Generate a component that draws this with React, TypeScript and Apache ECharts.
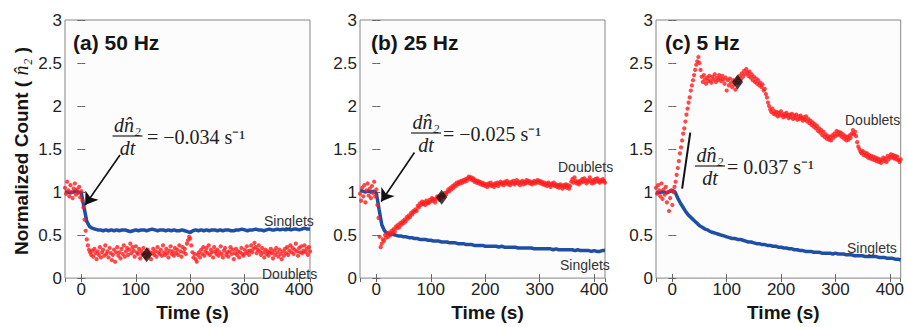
import React, { useEffect, useRef } from "react";
import * as echarts from "echarts";

const X_MIN = -30;
const X_MAX = 420;
const Y_MIN = 0;
const Y_MAX = 3;
const Y_STEP = 0.5;
const RED_START = -30;
const RED_STEP = 2;
const BLUE_START = -30;
const BLUE_STEP = 5;

const titles = ["(a) 50 Hz", "(b) 25 Hz", "(c) 5 Hz"];
const slopeTexts = ["= \u22120.034 s\u207B\u00B9", "= \u22120.025 s\u207B\u00B9", "= 0.037 s\u207B\u00B9"];
const diamondPts = [[120, 0.27], [120, 0.94], [120, 2.28]];
const arrowLines = [
  [[71, 1.43], [7, 0.85]],
  [[70, 1.46], [9, 0.89]],
  [[33, 1.69], [18, 1.04]],
];
const arrowHeads = [true, true, false];

// Doublets, sampled every 2 s from -30 s
const redA = [
  1.05, 0.98, 1.12, 1.02, 0.95, 1.08, 1.0, 0.93, 1.04, 1.1,
  0.97, 1.03, 0.99, 1.06, 0.94, 1.01, 0.9, 0.82, 0.68, 0.55,
  0.45, 0.38, 0.33, 0.3, 0.27, 0.32, 0.25, 0.34, 0.29, 0.22,
  0.31, 0.27, 0.36, 0.24, 0.3, 0.33, 0.26, 0.38, 0.28, 0.31,
  0.24, 0.35, 0.29, 0.21, 0.27, 0.33, 0.19, 0.3, 0.36, 0.26,
  0.3, 0.23, 0.34, 0.28, 0.38, 0.25, 0.31, 0.35, 0.27, 0.33,
  0.4, 0.29, 0.36, 0.32, 0.25, 0.37, 0.3, 0.28, 0.34, 0.23,
  0.31, 0.27, 0.35, 0.29, 0.24, 0.28, 0.33, 0.26, 0.3, 0.22,
  0.29, 0.34, 0.27, 0.31, 0.25, 0.36, 0.3, 0.28, 0.33, 0.26,
  0.38, 0.3, 0.27, 0.34, 0.29, 0.24, 0.32, 0.37, 0.28, 0.31,
  0.26, 0.35, 0.29, 0.33, 0.27, 0.38, 0.31, 0.25, 0.36, 0.3,
  0.34, 0.28, 0.4, 0.44, 0.48, 0.46, 0.38, 0.3, 0.24, 0.28,
  0.22, 0.19, 0.27, 0.3, 0.24, 0.33, 0.28, 0.36, 0.26, 0.31,
  0.35, 0.29, 0.38, 0.27, 0.33, 0.3, 0.24, 0.36, 0.31, 0.28,
  0.33, 0.26, 0.3, 0.37, 0.28, 0.24, 0.32, 0.35, 0.27, 0.3,
  0.25, 0.31, 0.36, 0.28, 0.33, 0.22, 0.29, 0.34, 0.27, 0.31,
  0.24, 0.3, 0.35, 0.28, 0.26, 0.33, 0.29, 0.37, 0.31, 0.27,
  0.32, 0.38, 0.3, 0.34, 0.41, 0.36, 0.29, 0.33, 0.38, 0.31,
  0.27, 0.35, 0.3, 0.24, 0.33, 0.28, 0.31, 0.26, 0.3, 0.34,
  0.29, 0.23, 0.32, 0.27, 0.35, 0.3, 0.25, 0.33, 0.28, 0.22,
  0.31, 0.26, 0.34, 0.29, 0.36, 0.27, 0.32, 0.38, 0.3, 0.35,
  0.28, 0.33, 0.4, 0.31, 0.26, 0.35, 0.3, 0.37, 0.29, 0.32,
  0.38, 0.3, 0.34, 0.27, 0.36, 0.31,
];
const redB = [
  0.98, 0.9, 1.05, 0.95, 1.08, 0.88, 1.02, 1.1, 0.96, 1.04,
  0.93, 1.07, 0.99, 1.12, 0.95, 1.03, 0.85, 0.7, 0.48, 0.36,
  0.4, 0.45, 0.43, 0.5, 0.47, 0.52, 0.48, 0.53, 0.5, 0.55,
  0.52, 0.57, 0.54, 0.6, 0.58, 0.62, 0.59, 0.64, 0.62, 0.66,
  0.64, 0.68, 0.66, 0.71, 0.69, 0.73, 0.71, 0.76, 0.74, 0.78,
  0.77, 0.8, 0.78, 0.84, 0.82, 0.87, 0.85, 0.89, 0.86, 0.88,
  0.85, 0.9, 0.88, 0.87, 0.91, 0.89, 0.93, 0.9, 0.92, 0.88,
  0.92, 0.95, 0.93, 0.91, 0.96, 0.94, 0.97, 0.95, 0.99, 0.97,
  1.0, 1.03, 1.01, 1.05, 1.03, 1.07, 1.05, 1.09, 1.07, 1.11,
  1.09, 1.12, 1.1, 1.13, 1.11, 1.14, 1.12, 1.15, 1.13, 1.16,
  1.18, 1.15, 1.17, 1.14, 1.16, 1.12, 1.14, 1.11, 1.13, 1.1,
  1.12, 1.09, 1.11, 1.08, 1.1, 1.07, 1.09, 1.06, 1.1, 1.08,
  1.11, 1.07, 1.09, 1.06, 1.1, 1.08, 1.11, 1.07, 1.1, 1.12,
  1.09, 1.11, 1.08, 1.12, 1.1, 1.13, 1.09, 1.11, 1.08, 1.12,
  1.1, 1.13, 1.09, 1.11, 1.14, 1.1, 1.12, 1.08, 1.11, 1.13,
  1.09, 1.12, 1.1, 1.14, 1.11, 1.13, 1.1, 1.12, 1.09, 1.11,
  1.13, 1.1, 1.12, 1.14, 1.11, 1.13, 1.1, 1.12, 1.09, 1.11,
  1.08, 1.1, 1.07, 1.11, 1.09, 1.06, 1.1, 1.08, 1.11, 1.07,
  1.09, 1.06, 1.08, 1.05, 1.09, 1.07, 1.04, 1.08, 1.06, 1.09,
  1.05, 1.08, 1.04, 1.07, 1.12, 1.15, 1.11, 1.17, 1.13, 1.1,
  1.12, 1.09, 1.13, 1.11, 1.15, 1.12, 1.16, 1.13, 1.1, 1.14,
  1.12, 1.17, 1.13, 1.1, 1.14, 1.11, 1.15, 1.12, 1.16, 1.13,
  1.11, 1.14, 1.12, 1.15, 1.13, 1.11,
];
const redC = [
  1.05, 0.98, 1.08, 1.02, 0.95, 1.1, 0.92, 1.03, 0.97, 1.06,
  0.88, 1.0, 0.78, 0.93, 1.02, 0.85, 1.0, 1.06, 1.12, 1.2,
  1.28, 1.36, 1.45, 1.52, 1.6, 1.68, 1.74, 1.82, 1.9, 1.97,
  2.04, 2.1, 2.18, 2.24, 2.3, 2.36, 2.42, 2.48, 2.52, 2.57,
  2.5, 2.42, 2.34, 2.28, 2.36, 2.31, 2.26, 2.33, 2.29, 2.35,
  2.3, 2.27, 2.34, 2.31, 2.37, 2.28, 2.33, 2.3, 2.36, 2.32,
  2.29, 2.35, 2.31, 2.26, 2.33, 2.18, 2.3, 2.24, 2.32, 2.27,
  2.22, 2.3, 2.25, 2.19, 2.28, 2.32, 2.27, 2.35, 2.31, 2.38,
  2.34, 2.41, 2.37, 2.43, 2.39, 2.35, 2.4, 2.33, 2.37, 2.3,
  2.34, 2.28, 2.32, 2.26, 2.3, 2.24, 2.27, 2.22, 2.25, 2.18,
  2.2, 2.14, 2.1, 2.04, 2.0, 1.96, 1.93, 1.97, 1.91, 1.94,
  1.9, 1.93, 1.88, 1.92, 1.89, 1.94, 1.9, 1.87, 1.91, 1.88,
  1.92, 1.89, 1.86, 1.9, 1.87, 1.91, 1.85, 1.89, 1.86, 1.9,
  1.84, 1.88, 1.85, 1.89, 1.86, 1.83, 1.87, 1.84, 1.88, 1.82,
  1.85, 1.8, 1.83, 1.78, 1.81, 1.76, 1.79, 1.74, 1.77, 1.71,
  1.74, 1.69, 1.72, 1.66, 1.7, 1.64, 1.67, 1.62, 1.65, 1.61,
  1.64, 1.6, 1.66, 1.63, 1.68, 1.65, 1.71, 1.67, 1.7, 1.66,
  1.69, 1.64, 1.67, 1.62, 1.65, 1.6, 1.64, 1.61, 1.66, 1.63,
  1.68, 1.72, 1.67, 1.7, 1.65, 1.58, 1.53, 1.5, 1.47, 1.45,
  1.48, 1.43, 1.46, 1.42, 1.45, 1.4, 1.43, 1.39, 1.42, 1.38,
  1.41, 1.37, 1.4, 1.36, 1.39, 1.35, 1.38, 1.34, 1.37, 1.4,
  1.36, 1.39, 1.35, 1.42, 1.38, 1.41, 1.44, 1.4, 1.43, 1.39,
  1.42, 1.38, 1.41, 1.37, 1.35, 1.38,
];

// Singlets, sampled every 5 s from -30 s
const blueA = [
  1.0, 1.0, 0.99, 1.0, 1.01, 1.0, 0.99, 0.82, 0.66, 0.6,
  0.58, 0.57, 0.56, 0.56, 0.55, 0.56, 0.55, 0.56, 0.55, 0.56,
  0.55, 0.56, 0.56, 0.55, 0.54, 0.55, 0.56, 0.55, 0.56, 0.56,
  0.55, 0.56, 0.57, 0.56, 0.55, 0.56, 0.56, 0.55, 0.56, 0.55,
  0.56, 0.55, 0.55, 0.56, 0.55, 0.54, 0.53, 0.55, 0.56, 0.55,
  0.56, 0.55, 0.56, 0.55, 0.56, 0.56, 0.55, 0.56, 0.55, 0.56,
  0.56, 0.55, 0.55, 0.56, 0.56, 0.57, 0.56, 0.55, 0.56, 0.56,
  0.57, 0.56, 0.56, 0.55, 0.56, 0.57, 0.56, 0.56, 0.57, 0.56,
  0.57, 0.56, 0.57, 0.56, 0.57, 0.57, 0.56, 0.57, 0.58, 0.57,
  0.57,
];
const blueB = [
  1.02, 1.01, 1.0, 1.01, 1.0, 1.01, 0.99, 0.8, 0.62, 0.55,
  0.52, 0.51, 0.51, 0.5, 0.49, 0.49, 0.48, 0.48, 0.47, 0.47,
  0.46, 0.46, 0.45, 0.45, 0.45, 0.44, 0.44, 0.43, 0.43, 0.43,
  0.42, 0.42, 0.42, 0.41, 0.41, 0.41, 0.4, 0.4, 0.4, 0.39,
  0.39, 0.39, 0.38, 0.38, 0.38, 0.38, 0.37, 0.37, 0.37, 0.37,
  0.37, 0.36, 0.37, 0.36, 0.36, 0.36, 0.36, 0.36, 0.35, 0.35,
  0.35, 0.35, 0.35, 0.35, 0.34, 0.34, 0.34, 0.34, 0.34, 0.34,
  0.34, 0.33, 0.34, 0.33, 0.33, 0.33, 0.33, 0.33, 0.33, 0.32,
  0.33, 0.32, 0.32, 0.32, 0.32, 0.31, 0.32, 0.31, 0.31, 0.32,
  0.32,
];
const blueC = [
  1.0, 0.99, 1.0, 1.0, 0.99, 1.01, 1.02, 1.0, 0.93, 0.87,
  0.82, 0.77, 0.73, 0.7, 0.67, 0.64, 0.61, 0.59, 0.57, 0.56,
  0.54, 0.53, 0.52, 0.51, 0.5, 0.49, 0.48, 0.47, 0.46, 0.46,
  0.45, 0.45, 0.44, 0.43, 0.42, 0.42, 0.41, 0.4, 0.4, 0.39,
  0.39, 0.38, 0.38, 0.37, 0.37, 0.36, 0.36, 0.35, 0.35, 0.34,
  0.34, 0.33, 0.33, 0.32, 0.32, 0.31, 0.31, 0.31, 0.3, 0.3,
  0.3, 0.29, 0.29, 0.29, 0.29, 0.28, 0.29, 0.28, 0.28, 0.28,
  0.27, 0.27, 0.27, 0.26, 0.26, 0.26, 0.26, 0.25, 0.25, 0.25,
  0.25, 0.25, 0.24, 0.24, 0.24, 0.23, 0.23, 0.23, 0.22, 0.22,
  0.21,
];

const doublets = [redA, redB, redC];
const singlets = [blueA, blueB, blueC];

// layout (pixels)
const GRID_LEFT = [65, 360, 656];
const GRID_WIDTH = [245, 245, 246];
const GRID_TOP = 20;
const GRID_HEIGHT = 263;
const TITLE_X = [73, 371, 665];
const FRAC = [
  { cx: 127.5, bar: 136, eqX: 147 },
  { cx: 426, bar: 133, eqX: 443 },
  { cx: 710, bar: 166, eqX: 727 },
];
const SERIES_LABELS = [
  [{ t: "Singlets", x: 264, y: 221 }, { t: "Doublets", x: 262, y: 274 }],
  [{ t: "Doublets", x: 558, y: 167 }, { t: "Singlets", x: 560, y: 265 }],
  [{ t: "Doublets", x: 845, y: 120 }, { t: "Singlets", x: 847, y: 248 }],
];

const SANS = "'Liberation Sans', Arial, Helvetica, sans-serif";
const SERIF = "'Liberation Serif', 'Times New Roman', serif";
const RED = "#ff1a1a";
const BLUE = "#1f4fa5";
const FRAME = "#858585";

function xLabel(v: number) {
  return v % 100 === 0 ? String(v) : "";
}

export default function App() {
  const ref = useRef<HTMLDivElement>(null);
  useEffect(() => {
    document.body.style.margin = "0";
    if (!ref.current) return;
    const chart = echarts.init(ref.current, undefined, { renderer: "svg" });

    const grid: any[] = [];
    const xAxis: any[] = [];
    const yAxis: any[] = [];
    const series: any[] = [];
    const graphic: any[] = [];

    for (let i = 0; i < 3; i++) {
      grid.push({
        left: GRID_LEFT[i],
        top: GRID_TOP,
        width: GRID_WIDTH[i],
        height: GRID_HEIGHT,
        show: true,
        backgroundColor: "#fcfcfc",
        borderColor: FRAME,
        borderWidth: 1,
      });
      const tick = { show: true, inside: true, length: 4, lineStyle: { color: "#666", width: 1 } };
      xAxis.push({
        type: "value",
        gridIndex: i,
        min: X_MIN,
        max: X_MAX,
        splitNumber: 5,
        position: "bottom",
        axisLine: { show: false },
        axisTick: tick,
        splitLine: { show: false },
        axisLabel: {
          formatter: xLabel,
          showMinLabel: false,
          showMaxLabel: false,
          fontSize: 17,
          color: "#222",
          fontFamily: SANS,
          margin: 3,
        },
        name: "Time (s)",
        nameLocation: "middle",
        nameGap: 23,
        nameTextStyle: {
          fontSize: 19,
          fontWeight: "bold",
          color: "#151515",
          fontFamily: SANS,
          padding: [0, 0, 0, 10],
        },
      });
      xAxis.push({
        type: "value",
        gridIndex: i,
        min: X_MIN,
        max: X_MAX,
        splitNumber: 5,
        position: "top",
        axisLine: { show: false },
        axisTick: tick,
        splitLine: { show: false },
        axisLabel: { show: false },
      });
      yAxis.push({
        type: "value",
        gridIndex: i,
        min: Y_MIN,
        max: Y_MAX,
        interval: Y_STEP,
        position: "left",
        axisLine: { show: false },
        axisTick: tick,
        splitLine: { show: false },
        axisLabel: { fontSize: 17, color: "#222", fontFamily: SANS, margin: 3 },
      });
      yAxis.push({
        type: "value",
        gridIndex: i,
        min: Y_MIN,
        max: Y_MAX,
        interval: Y_STEP,
        position: "right",
        axisLine: { show: false },
        axisTick: tick,
        splitLine: { show: false },
        axisLabel: { show: false },
      });

      series.push({
        type: "line",
        xAxisIndex: i * 2,
        yAxisIndex: i * 2,
        data: singlets[i].map((v, k) => [BLUE_START + k * BLUE_STEP, v]),
        showSymbol: false,
        lineStyle: { color: BLUE, width: 3.5 },
        itemStyle: { color: BLUE },
        silent: true,
        z: 2,
      });
      series.push({
        type: "scatter",
        xAxisIndex: i * 2,
        yAxisIndex: i * 2,
        data: doublets[i].map((v, k) => [RED_START + k * RED_STEP, v]),
        symbol: "circle",
        symbolSize: 4.2,
        itemStyle: { color: RED },
        silent: true,
        z: 3,
      });
      series.push({
        type: "scatter",
        xAxisIndex: i * 2,
        yAxisIndex: i * 2,
        data: [diamondPts[i]],
        symbol: "diamond",
        symbolSize: [11, 15],
        itemStyle: { color: "#111" },
        silent: true,
        z: 4,
        markLine: {
          silent: true,
          animation: false,
          symbol: arrowHeads[i] ? ["none", "arrow"] : ["none", "none"],
          symbolSize: 12,
          label: { show: false },
          lineStyle: { color: "#111", width: arrowHeads[i] ? 1.6 : 2, type: "solid" },
          emphasis: { disabled: true },
          data: [[{ coord: arrowLines[i][0] }, { coord: arrowLines[i][1] }]],
        },
      });

      graphic.push({
        type: "text",
        x: TITLE_X[i],
        y: 42,
        style: {
          text: titles[i],
          font: `bold 21px ${SANS}`,
          fill: "#151515",
          textAlign: "left",
          textVerticalAlign: "middle",
          align: "left",
          verticalAlign: "middle",
        },
        z: 10,
      });
      const f = FRAC[i];
      graphic.push({
        type: "text",
        x: f.cx,
        y: f.bar - 11.5,
        style: {
          text: "dn\u0302\u2082",
          font: `italic 20px ${SERIF}`,
          fill: "#222",
          textAlign: "center",
          textVerticalAlign: "middle",
          align: "center",
          verticalAlign: "middle",
        },
        z: 10,
      });
      graphic.push({
        type: "line",
        shape: { x1: f.cx - 15, y1: f.bar, x2: f.cx + 15, y2: f.bar },
        style: { stroke: "#222", lineWidth: 1.2 },
        z: 10,
      });
      graphic.push({
        type: "text",
        x: f.cx,
        y: f.bar + 12,
        style: {
          text: "dt",
          font: `italic 20px ${SERIF}`,
          fill: "#222",
          textAlign: "center",
          textVerticalAlign: "middle",
          align: "center",
          verticalAlign: "middle",
        },
        z: 10,
      });
      graphic.push({
        type: "text",
        x: f.eqX,
        y: f.bar + 1,
        style: {
          text: slopeTexts[i],
          font: `20px ${SERIF}`,
          fill: "#222",
          textAlign: "left",
          textVerticalAlign: "middle",
          align: "left",
          verticalAlign: "middle",
        },
        z: 10,
      });
      for (const lab of SERIES_LABELS[i]) {
        graphic.push({
          type: "text",
          x: lab.x,
          y: lab.y,
          style: {
            text: lab.t,
            font: `14px ${SANS}`,
            fill: "#333",
            textAlign: "left",
            textVerticalAlign: "middle",
            align: "left",
            verticalAlign: "middle",
          },
          z: 10,
        });
      }
    }

    graphic.push({
      type: "text",
      x: 21,
      y: 151,
      rotation: Math.PI / 2,
      style: {
        text: "{b|Normalized Count ( }{m|n\u0302\u2082}{b| )}",
        rich: {
          b: { font: `bold 19px ${SANS}`, fill: "#151515" },
          m: { font: `italic 20px ${SERIF}`, fill: "#151515" },
        },
        textAlign: "center",
        textVerticalAlign: "middle",
        align: "center",
        verticalAlign: "middle",
      },
      z: 10,
    });

    chart.setOption({
      animation: false,
      backgroundColor: "#ffffff",
      grid,
      xAxis,
      yAxis,
      series,
      graphic,
    });
    return () => chart.dispose();
  }, []);
  return <div ref={ref} style={{ width: 907, height: 327 }} />;
}
